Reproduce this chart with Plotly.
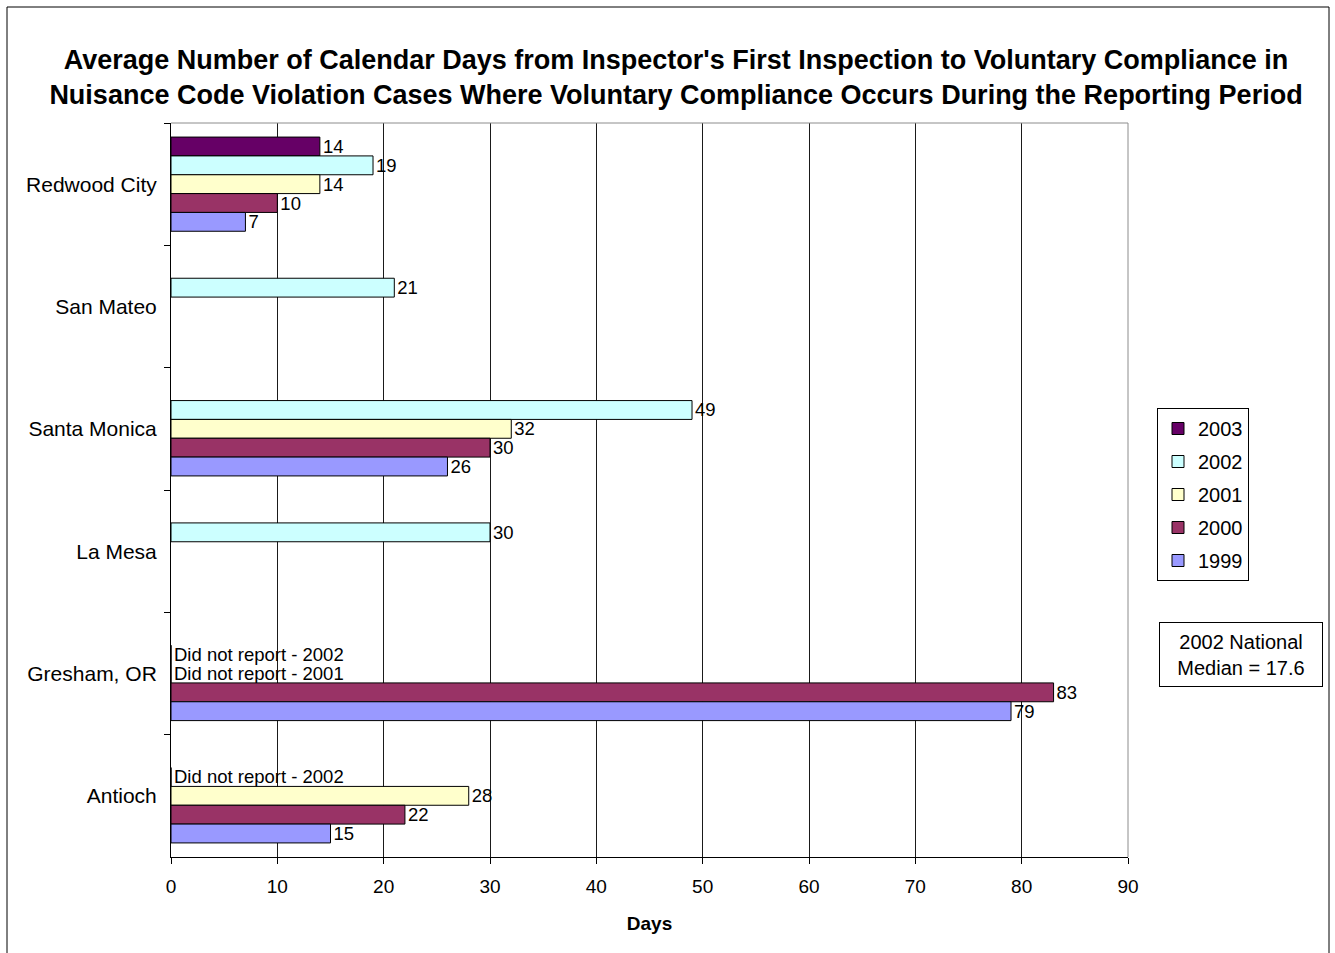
import plotly.graph_objects as go

# Cities (top to bottom) and the average days per reporting year
cities = ["Redwood City", "San Mateo", "Santa Monica", "La Mesa", "Gresham, OR", "Antioch"]
years = ["2003", "2002", "2001", "2000", "1999"]

days_2003 = [14, None, None, None, None, None]
days_2002 = [19, 21, 49, 30, None, None]
days_2001 = [14, None, 32, None, None, 28]
days_2000 = [10, None, 30, None, 83, 22]
days_1999 = [7, None, 26, None, 79, 15]

# Notes for cities that did not submit a figure for a given year
notes_2002 = [None, None, None, None, "Did not report - 2002", "Did not report - 2002"]
notes_2001 = [None, None, None, None, "Did not report - 2001", None]

series = {
    "2003": (days_2003, None),
    "2002": (days_2002, notes_2002),
    "2001": (days_2001, notes_2001),
    "2000": (days_2000, None),
    "1999": (days_1999, None),
}
colors = {
    "2003": "#660066",
    "2002": "#CCFFFF",
    "2001": "#FFFFCC",
    "2000": "#993366",
    "1999": "#9999FF",
}

x_ticks = [0, 10, 20, 30, 40, 50, 60, 70, 80, 90]

FONT = "Arial, 'Liberation Sans', sans-serif"
W, H = 1335, 953
L, R, T, B = 171, 207, 123, 96

fig = go.Figure()
for yr in years:
    vals, notes = series[yr]
    xs, texts = [], []
    for i, v in enumerate(vals):
        note = notes[i] if notes else None
        if v is not None:
            xs.append(v)
            texts.append(str(v))
        elif note:
            xs.append(0)
            texts.append(note)
        else:
            xs.append(None)
            texts.append("")
    fig.add_trace(go.Bar(
        name=yr,
        y=cities,
        x=xs,
        orientation="h",
        text=texts,
        textposition="outside",
        constraintext="none",
        cliponaxis=False,
        textfont=dict(family=FONT, size=18.5, color="black"),
        marker=dict(color=colors[yr], line=dict(color="black", width=1)),
        legendgroup=yr,
        hoverinfo="x+y+name",
    ))


def px_x(px):
    return (px - L) / (W - L - R)


def px_y(py):
    return (H - B - py) / (H - T - B)


fig.update_layout(
    width=W,
    height=H,
    margin=dict(l=L, r=R, t=T, b=B, autoexpand=False),
    paper_bgcolor="white",
    plot_bgcolor="white",
    barmode="group",
    bargap=0.23,
    bargroupgap=0,
    font=dict(family=FONT, color="black"),
    title=dict(
        text="<b>Average Number of Calendar Days from Inspector's First Inspection to Voluntary Compliance in<br>"
             "Nuisance Code Violation Cases Where Voluntary Compliance Occurs During the Reporting Period</b>",
        x=676 / W,
        xanchor="center",
        y=1 - 69 / H,
        yanchor="middle",
        font=dict(family=FONT, size=27, color="black"),
    ),
    xaxis=dict(
        range=[0, 90],
        tickvals=x_ticks,
        ticks="outside",
        ticklen=6,
        tickcolor="black",
        showgrid=True,
        gridcolor="#1a1a1a",
        gridwidth=1,
        zeroline=False,
        showline=True,
        linecolor="black",
        linewidth=1,
        tickfont=dict(family=FONT, size=19),
        ticklabelstandoff=6,
        title=dict(text="<b>Days</b>", font=dict(family=FONT, size=19), standoff=20),
        fixedrange=True,
    ),
    yaxis=dict(
        autorange="reversed",
        type="category",
        ticks="outside",
        tickson="boundaries",
        ticklen=6,
        tickcolor="black",
        showgrid=False,
        showline=True,
        linecolor="black",
        linewidth=1,
        tickfont=dict(family=FONT, size=21),
        ticklabelstandoff=9,
        fixedrange=True,
    ),
    legend=dict(
        x=px_x(1157),
        xanchor="left",
        y=px_y(408),
        yanchor="top",
        bordercolor="black",
        borderwidth=1,
        bgcolor="white",
        font=dict(family=FONT, size=20),
        traceorder="grouped",
        tracegroupgap=4,
        itemwidth=30,
    ),
    showlegend=True,
)

# Plot-area frame (top and right edges in grey) and the outer chart border
fig.add_shape(type="line", xref="paper", yref="paper", x0=0, x1=1, y0=1, y1=1,
              line=dict(color="#8c8c8c", width=1), layer="above")
fig.add_shape(type="line", xref="paper", yref="paper", x0=1, x1=1, y0=0, y1=1,
              line=dict(color="#8c8c8c", width=1), layer="above")
fig.add_shape(type="rect", xref="paper", yref="paper",
              x0=px_x(7), x1=px_x(1329), y0=px_y(970), y1=px_y(7),
              line=dict(color="black", width=1), fillcolor="rgba(0,0,0,0)", layer="below")

# National median text box
fig.add_annotation(
    xref="paper", yref="paper",
    x=px_x(1241), y=px_y(654.5),
    xanchor="center", yanchor="middle",
    text="2002 National<br>Median = 17.6",
    showarrow=False,
    align="center",
    font=dict(family=FONT, size=20, color="black"),
    bordercolor="black",
    borderwidth=1,
    borderpad=4,
    bgcolor="white",
    width=154,
    height=55,
)

fig.write_html("out.html")
